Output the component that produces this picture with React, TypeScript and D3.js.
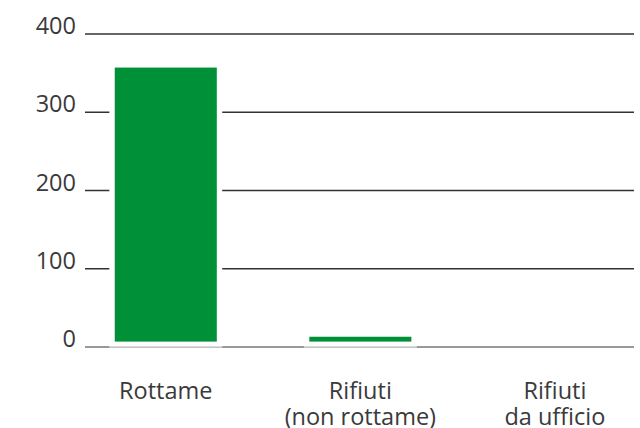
import React from "react";
import * as d3 from "d3";

const categories: string[][] = [["Rottame"], ["Rifiuti", "(non rottame)"], ["Rifiuti", "da ufficio"]];
const values: number[] = [364, 20, 0];
const yTicks: number[] = [0, 100, 200, 300, 400];

const W = 640;
const H = 428;
const FONT = "'Open Sans', 'Noto Sans', sans-serif";
const GREEN = "#009138";
const INSET = 5.4;

export default function App() {
  const y = d3.scaleLinear().domain([0, 400]).range([347, 34]);
  const x = d3
    .scaleBand<number>()
    .domain(values.map((_, i) => i))
    .range([68.5, 652.2])
    .paddingInner(0.42)
    .paddingOuter(0.21);
  const gx0 = 85;
  const gx1 = 634;
  const bw = x.bandwidth();

  return (
    <svg
      width={W}
      height={H}
      style={{ position: "absolute", left: 0, top: 0, display: "block", background: "#fff" }}
    >
      {yTicks.map((t) => (
        <g key={t}>
          <line
            x1={gx0}
            x2={gx1}
            y1={y(t)}
            y2={y(t)}
            stroke={t === 0 ? "#777" : "#333"}
            strokeWidth={1.3}
          />
          <text
            x={76}
            y={y(t)}
            textAnchor="end"
            fontFamily={FONT}
            fontWeight={400}
            fontSize={23.5}
            fill="#3a3a3a"
          >
            {t}
          </text>
        </g>
      ))}
      {values.map((v, i) =>
        v > 0 ? (
          <g key={i}>
            <rect
              x={x(i)}
              y={y(v) - INSET}
              width={bw}
              height={y(0) - y(v) + INSET}
              fill="#fff"
            />
            <line
              x1={x(i) as number}
              x2={(x(i) as number) + bw}
              y1={y(0)}
              y2={y(0)}
              stroke="#d0d0d0"
              strokeWidth={1.3}
            />
            <rect
              x={(x(i) as number) + INSET}
              y={y(v) + INSET}
              width={bw - 2 * INSET}
              height={y(0) - y(v) - 2 * INSET}
              fill={GREEN}
            />
          </g>
        ) : null
      )}
      {categories.map((lines, i) => (
        <text
          key={i}
          textAnchor="middle"
          fontFamily={FONT}
          fontWeight={400}
          fontSize={23.5}
          fill="#3a3a3a"
        >
          {lines.map((l, j) => (
            <tspan key={j} x={(x(i) as number) + bw / 2} y={399 + j * 25.5}>
              {l}
            </tspan>
          ))}
        </text>
      ))}
    </svg>
  );
}
